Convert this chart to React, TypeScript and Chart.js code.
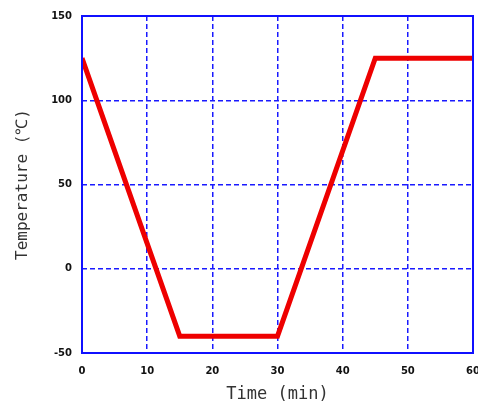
import React, { useEffect, useRef } from "react";
import { Chart, registerables } from "chart.js";

Chart.register(...registerables);

const timeMin = [0, 15, 30, 45, 60];
const temperature = [125, -40, -40, 125, 125];
const xTicks = [0, 10, 20, 30, 40, 50, 60];
const yTicks = [-50, 0, 50, 100, 150];
const xTitle = "Time (min)";
const yTitle = "Temperature (℃)";

const borderPlugin = {
  id: "boxBorder",
  afterDatasetsDraw(chart: any) {
    const { ctx, chartArea } = chart;
    ctx.save();
    ctx.strokeStyle = "#1010ff";
    ctx.lineWidth = 2;
    ctx.setLineDash([]);
    ctx.strokeRect(chartArea.left, chartArea.top, chartArea.right - chartArea.left, chartArea.bottom - chartArea.top);
    ctx.restore();
  },
};

export default function App() {
  const ref = useRef<HTMLCanvasElement | null>(null);
  useEffect(() => {
    if (!ref.current) return;
    const chart = new Chart(ref.current, {
      type: "line",
      data: {
        datasets: [
          {
            data: timeMin.map((t, i) => ({ x: t, y: temperature[i] })),
            borderColor: "#ee0000",
            borderWidth: 5,
            pointRadius: 0,
            tension: 0,
            fill: false,
            borderJoinStyle: "miter",
          },
        ],
      },
      options: {
        animation: false,
        responsive: false,
        devicePixelRatio: 1,
        layout: { padding: { top: 16, right: 5, left: 0, bottom: 0 } },
        plugins: { legend: { display: false }, tooltip: { enabled: false } },
        scales: {
          x: {
            type: "linear",
            min: 0,
            max: 60,
            afterBuildTicks: (s: any) => {
              s.ticks = xTicks.map((v) => ({ value: v }));
            },
            afterFit: (s: any) => {
              s.height = 52;
              s.paddingLeft = 0;
              s.paddingRight = 0;
            },
            grid: {
              color: "#1a1aff",
              lineWidth: 1.5,
              drawTicks: false,
            },
            border: { display: false, dash: [5, 3] },
            ticks: {
              color: "#111",
              padding: 12,
              font: { family: "DejaVu Sans", size: 10, weight: "bold" },
              maxRotation: 0,
            },
            title: {
              display: true,
              text: xTitle,
              color: "#333",
              font: { family: "DejaVu Sans Mono", size: 17 },
              padding: { top: 0, bottom: 0 },
            },
          },
          y: {
            type: "linear",
            min: -50,
            max: 150,
            afterBuildTicks: (s: any) => {
              s.ticks = yTicks.map((v) => ({ value: v }));
            },
            afterFit: (s: any) => {
              s.width = 82;
              s.paddingTop = 0;
              s.paddingBottom = 0;
            },
            grid: {
              color: "#1a1aff",
              lineWidth: 1.5,
              drawTicks: false,
            },
            border: { display: false, dash: [5, 3] },
            ticks: {
              color: "#111",
              padding: 10,
              font: { family: "DejaVu Sans", size: 10, weight: "bold" },
            },
            title: {
              display: true,
              text: yTitle,
              color: "#333",
              font: { family: "DejaVu Sans Mono", size: 16 },
              padding: { top: 13, bottom: 0 },
            },
          },
        },
      },
      plugins: [borderPlugin],
    } as any);
    return () => chart.destroy();
  }, []);
  return (
    <div style={{ position: "fixed", left: 0, top: 0, width: 478, height: 405, background: "#fff" }}>
      <canvas ref={ref} width={478} height={405} style={{ display: "block" }} />
    </div>
  );
}
